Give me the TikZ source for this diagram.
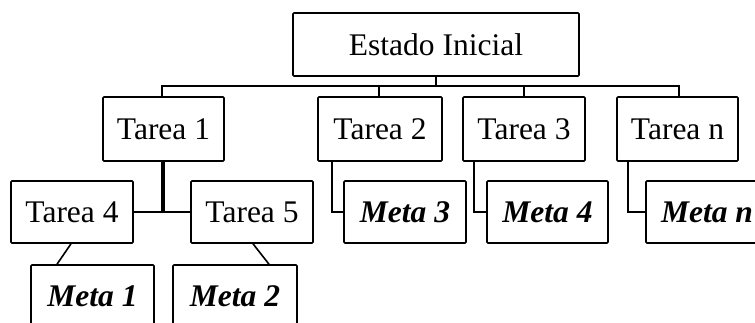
\documentclass[tikz,border=0pt]{standalone}
\usepackage{fontspec}
\setmainfont{Liberation Serif}
\begin{document}
\begin{tikzpicture}[x=1pt,y=-1pt,
  box/.style={draw, line width=1.6pt, rounded corners=1pt, inner sep=0pt, minimum height=62pt,
    font=\fontsize{31.5}{36}\selectfont, fill=white},
  metabox/.style={box, font=\fontsize{31.5}{36}\selectfont\bfseries\itshape},
  conn/.style={line width=1.6pt},
  thick conn/.style={line width=4pt}]
\useasboundingbox (0,0) rectangle (755,322);
\clip (0,0) rectangle (755,322);
\coordinate (bus) at (436,86);
% connectors
\draw[conn] (436,76) -- (bus);
\draw[conn] (162,97) |- (679,86) -- (679,97);
\draw[conn] (379,86) -- (379,97);
\draw[conn] (524,86) -- (524,97);
% nodes
\node[box, minimum width=286pt, minimum height=63pt] (e) at (436,44.5) {Estado Inicial};
\node[box, minimum width=121pt, minimum height=64pt] (t1) at (163.5,129) {Tarea 1};
\node[box, minimum width=124pt, minimum height=64pt] (t2) at (380,129) {Tarea 2};
\node[box, minimum width=122pt, minimum height=64pt] (t3) at (524,129) {Tarea 3};
\node[box, minimum width=121pt, minimum height=64pt] (tn) at (677.5,129) {Tarea n};
\node[box, minimum width=122pt] (t4) at (72,212) {Tarea 4};
\node[box, minimum width=122pt] (t5) at (252,212) {Tarea 5};
\node[metabox, minimum width=123pt] (m1) at (92.5,296) {Meta 1};
\node[metabox, minimum width=124pt] (m2) at (235,296) {Meta 2};
\node[metabox, minimum width=122pt] (m3) at (405,212) {Meta 3};
\node[metabox, minimum width=121pt] (m4) at (547.5,212) {Meta 4};
\node[metabox, minimum width=122pt] (mn) at (707,212) {Meta n};
% lower connectors
\draw[thick conn] ([xshift=-0.5pt]t1.south) -- ([xshift=-0.5pt]t1.south |- t4.east);
\draw[conn] (t4.east) -- (t5.west);
\draw[conn] ([xshift=-1pt]t4.south) -- ([xshift=-35.5pt]m1.north);
\draw[conn] ([xshift=1pt]t5.south) -- ([xshift=34pt]m2.north);
\draw[conn] ([xshift=15pt]t2.south west) |- (m3.west);
\draw[conn] ([xshift=12pt]t3.south west) |- (m4.west);
\draw[conn] ([xshift=12pt]tn.south west) |- (mn.west);
\end{tikzpicture}
\end{document}
